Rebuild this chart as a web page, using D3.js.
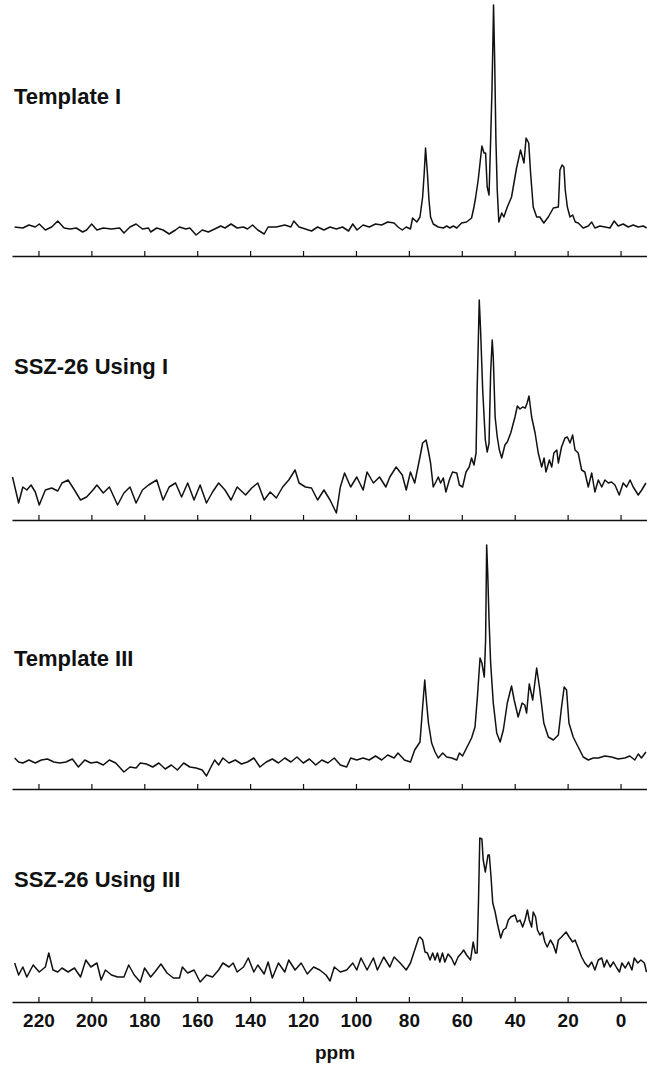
<!DOCTYPE html>
<html lang="en">
<head>
    <meta charset="UTF-8">
    <title>13C NMR spectra - templates and SSZ-26</title>
    <style>
        body {
            margin: 0;
            padding: 0;
            background: #fff;
        }

        .spectrum {
            fill: none;
            stroke: #111;
            stroke-width: 1.5px;
            stroke-linejoin: round;
        }

        .axis .domain {
            stroke: #111;
            stroke-width: 1.7px;
        }

        .axis line {
            stroke: #111;
            stroke-width: 1.2px;
        }

        .axis text {
            font-family: "Liberation Sans", Arial, sans-serif;
            font-size: 19px;
            font-weight: bold;
            fill: #111;
        }

        .panel-label {
            font-family: "Liberation Sans", Arial, sans-serif;
            font-size: 22px;
            font-weight: bold;
            fill: #111;
        }
    </style>
</head>
<body>
    <script src="https://d3js.org/d3.v7.min.js"></script>
    <script>
        // tick values of the ppm axis
        const ppmTicks = [220, 200, 180, 160, 140, 120, 100, 80, 60, 40, 20, 0];

        // panel titles, top to bottom
        const labels = ["Template I", "SSZ-26 Using I", "Template III", "SSZ-26 Using III"];

        // spectra: [ppm, intensity]
        const templateI = [
            [229,29],[225.9,28],[223.6,31],[221.2,29],[219.7,32],[217.4,26],[215,29],[212.7,35],[210.3,28],[208,27],
            [205.7,28],[203.3,24],[201.8,26],[199.9,32],[197.9,26],[195.5,28],[192.4,27],[189.3,28],[187.7,23],[185.4,29],
            [183.1,32],[180.7,27],[178.4,28],[177.6,24],[175.3,28],[172.9,26],[170.6,22],[168.2,26],[166.7,29],[164.3,27],
            [162.8,28],[160.4,21],[158.1,26],[155.8,24],[153.4,27],[151.1,30],[149.5,28],[147.2,32],[144.9,28],[142.5,29],
            [141,27],[139.1,31],[137.1,26],[134.7,22],[133.2,29],[130.1,29],[126.9,31],[124.6,29],[123.5,35],[121.5,29],
            [119.1,27],[116.8,25],[114.5,29],[112.1,26],[109.8,29],[107.4,27],[105.1,29],[102.8,25],[101.2,32],[99.6,26],
            [97.3,31],[95,29],[92.6,32],[90.3,31],[88,34],[85.6,33],[84.1,29],[82.5,26],[81,29],[79.4,27],
            [78.6,38],[77,34],[75.8,39],[74.8,59],[74.2,83],[73.7,108],[73,83],[72.4,56],[71.8,39],[70.8,32],
            [68.9,29],[67,28],[65.7,30],[64.5,28],[63.2,30],[61.9,28],[60.1,33],[58.2,34],[56.3,38],[55.4,49],
            [54.8,58],[53.8,76],[53.1,93],[52.4,110],[51.6,103],[51,103],[50.4,69],[49.7,61],[49.1,116],[48.6,165],
            [48.2,220],[48,251],[47.6,200],[47.1,116],[46.6,66],[46,34],[44.9,43],[44.1,39],[42.8,49],[41.2,59],
            [39.3,88],[37.8,106],[37.1,99],[36.5,93],[35.7,118],[34.7,113],[34,83],[33,49],[31.7,39],[30.5,39],
            [29,33],[27.3,39],[25.4,48],[23.5,49],[22.9,86],[22.1,91],[21.4,89],[20.9,66],[20.1,49],[19.1,39],
            [18.1,41],[17.1,34],[16,33],[14.1,28],[12.2,30],[10.9,34],[9.7,28],[7.8,30],[5.9,29],[4,28],
            [2.4,35],[0.9,30],[-1,32],[-2.9,29],[-4.8,31],[-6.7,29],[-8.6,30],[-9.9,28]
        ];

        const ssz26UsingI = [
            [229.8,43],[227.5,17],[225.9,33],[224.4,30],[222.8,35],[221.2,28],[219.7,15],[217.4,30],[215,32],[212.7,29],
            [211.1,37],[208.8,40],[206.4,30],[204.1,20],[201.8,23],[199.4,30],[197.9,35],[195.5,27],[193.2,33],[190.1,15],
            [187.7,27],[185.4,33],[183.1,17],[180.7,30],[178.4,35],[175.3,40],[172.9,20],[170.6,33],[168.2,37],[165.9,23],
            [163.6,37],[161.2,20],[158.9,35],[156.5,17],[154.2,28],[151.9,37],[149.5,30],[147.2,20],[144.9,33],[141.7,25],
            [139.4,32],[137.1,37],[134.7,20],[132.4,28],[130.1,22],[127.7,33],[125.4,40],[123,50],[121.5,37],[119.1,33],
            [116.8,32],[114.5,20],[112.1,30],[109.8,20],[107.4,7],[105.9,33],[104.3,47],[102,33],[99.7,43],[97.3,30],
            [95.8,48],[93.4,37],[91.1,43],[88.7,33],[87.2,43],[84.8,53],[82.5,45],[81,30],[79.4,48],[77.8,37],
            [75.8,63],[74.8,77],[73.5,80],[72.7,70],[71.8,57],[70.8,33],[69.8,38],[68.9,43],[68,37],[67,42],
            [66,28],[64.7,40],[63.5,48],[61.9,47],[60.9,35],[59.7,33],[58.4,48],[57.2,53],[56.3,62],[55.4,55],
            [54.6,67],[54.2,130],[53.6,197],[53.4,220],[52.9,190],[52.1,130],[51.1,80],[50.4,68],[49.7,77],[49.1,147],
            [48.5,180],[48.1,163],[47.4,103],[46.6,83],[45.8,70],[44.9,62],[43.7,75],[42.8,78],[41.5,87],[39.9,103],
            [39,114],[38,111],[37,113],[36,112],[35.3,117],[34.6,124],[33.6,103],[32.3,87],[31.1,67],[29.8,53],
            [28.9,62],[28.2,48],[26.9,60],[26,53],[25.2,67],[24.1,70],[23.5,57],[22.3,73],[21,82],[20.1,83],
            [19.1,77],[18.1,85],[17.2,70],[16,67],[14.7,50],[13.5,48],[12.2,33],[10.9,47],[9.7,28],[8.4,40],
            [7.1,33],[5.9,40],[4.6,37],[3.4,38],[2.1,35],[0.5,25],[-1,37],[-2.3,33],[-3.6,40],[-4.8,33],
            [-6.7,25],[-8,30],[-9.6,37]
        ];

        const templateIII = [
            [229,31],[227.5,27],[225.9,26],[223.6,29],[221.2,26],[218.9,29],[216.6,30],[214.2,27],[211.9,26],[209.6,27],
            [207.2,30],[204.9,22],[202.5,29],[200.2,26],[197.9,27],[195.5,24],[193.2,29],[190.8,26],[187.7,17],[185.4,22],
            [183.1,21],[181.5,26],[179.2,25],[176.8,22],[174.5,26],[172.1,20],[169.8,24],[167.5,19],[165.1,26],[162.8,22],
            [160.4,21],[158.1,19],[156.5,13],[155,21],[153.4,29],[151.9,24],[150.3,31],[148,26],[145.6,29],[143.3,25],
            [141,27],[138.6,31],[136.3,22],[133.9,27],[131.6,30],[129.3,26],[126.9,31],[124.6,27],[122.3,32],[119.9,26],
            [117.6,30],[115.2,24],[112.9,29],[110.6,26],[108.2,31],[105.9,24],[103.5,22],[102,31],[99.7,29],[97.3,31],
            [95,29],[92.6,33],[90.3,29],[88,34],[85.6,31],[84.1,36],[81.7,29],[79.4,27],[77.8,39],[75.8,47],
            [74.8,82],[74,109],[73.3,86],[72.6,66],[71.4,46],[70.1,37],[68.9,31],[67.2,36],[65.7,32],[63.8,31],
            [61.9,29],[60.9,36],[59.7,33],[58.2,41],[56.3,51],[55,62],[54.1,92],[53.1,131],[52.4,126],[51.5,112],
            [51,149],[50.6,244],[50.2,216],[49.7,169],[49.1,126],[48.1,86],[46.8,56],[45.5,47],[44.3,59],[42.8,86],
            [41.2,103],[40.2,89],[38.7,72],[37.2,86],[36.2,84],[35.5,76],[34.5,105],[33.2,89],[31.7,121],[30.5,99],
            [29,66],[27.3,52],[25.4,49],[23.5,54],[22.3,82],[21.3,102],[20.4,99],[19.5,66],[17.9,52],[16,42],
            [14.1,32],[12.2,29],[10.3,31],[8.4,31],[5.9,33],[3.4,32],[0.9,30],[-1.6,31],[-3.5,33],[-5.4,29],
            [-6.7,35],[-7.9,31],[-9.6,37]
        ];

        const ssz26UsingIII = [
            [229,39],[227.5,27],[225.9,35],[224.4,25],[222,37],[219.7,30],[217.4,35],[216.1,49],[214.5,32],[212.7,30],
            [211.1,34],[208.8,30],[206.4,34],[204.1,25],[202.1,42],[200.2,35],[197.9,39],[196.3,22],[194.7,32],[192.4,27],
            [190.1,25],[187.7,25],[185.9,37],[183.8,27],[181.5,20],[179.9,34],[177.6,25],[176,30],[173.7,38],[171.4,29],
            [169,24],[166.7,24],[165.6,35],[163.6,29],[161.2,32],[158.9,20],[156.5,27],[154.2,25],[151.9,32],[150.3,39],
            [148,35],[146.4,39],[144.9,30],[142.5,35],[140.7,44],[138.6,30],[137.1,37],[134.7,28],[133.2,40],[131.6,24],
            [129.3,39],[126.9,30],[125.4,42],[123,32],[120.7,39],[118.4,28],[116,35],[113.7,32],[111.3,27],[109.8,21],
            [108.2,35],[105.9,30],[103.5,32],[101.2,39],[99.7,32],[98.1,44],[95.8,32],[93.4,44],[91.9,32],[89.5,45],
            [87.2,35],[85.6,45],[83.3,39],[81,32],[79.4,39],[77.8,52],[76.3,64],[75.8,65],[74.8,62],[73.9,50],
            [73,49],[72,42],[71,49],[70.1,42],[69.2,49],[68.3,40],[67.3,49],[66.4,40],[65.2,48],[63.9,44],
            [62.7,37],[61.4,45],[60.1,49],[59.3,52],[58.2,47],[56.7,42],[55.7,60],[54.9,49],[54.2,49],[53.7,99],
            [53.2,164],[52.4,163],[51.9,142],[51.1,130],[50.1,147],[49.6,147],[49,127],[48.3,99],[47.4,90],[46.6,79],
            [45.3,64],[44.3,72],[43.3,74],[42.4,82],[41.5,85],[39.9,87],[39,80],[38,82],[37,75],[36.1,82],
            [35.2,92],[34.5,82],[33.6,75],[33,90],[32.1,85],[31.4,72],[30.5,67],[29.5,70],[28.6,60],[27.7,55],
            [26.5,62],[25.4,57],[24.4,49],[23.5,62],[22.3,65],[20.6,70],[19.4,65],[18.1,60],[17.2,62],[16,54],
            [14.7,45],[13.5,39],[12.2,35],[10.9,40],[9.7,32],[8.4,42],[7.1,44],[6.2,35],[5.2,42],[3.9,35],
            [2.7,40],[1.4,34],[0.4,30],[-0.5,39],[-1.8,34],[-3,40],[-4.3,32],[-5.2,44],[-6.5,39],[-7.7,42],
            [-9,39],[-9.8,30]
        ];

        const spectra = [templateI, ssz26UsingI, templateIII, ssz26UsingIII];

        const width = 647;
        const height = 1066;

        // baseline (axis) of each panel and where its title sits
        const axisY = [256, 520, 789, 1002];
        const labelY = [104, 374, 666, 887];

        const svg = d3.select("body").append("svg")
            .attr("width", width)
            .attr("height", height);

        // ppm runs right to left
        const x = d3.scaleLinear()
            .domain([230, -10])
            .range([12, 647]);

        spectra.forEach((data, i) => {
            const y = d3.scaleLinear()
                .domain([0, 250])
                .range([axisY[i], axisY[i] - 250]);

            const line = d3.line()
                .x(d => x(d[0]))
                .y(d => y(d[1]));

            svg.append("path")
                .datum(data)
                .attr("class", "spectrum")
                .attr("d", line);

            // axis with small ticks pointing up, labels only on the last one
            const isLast = i === spectra.length - 1;
            const axis = d3.axisBottom(x)
                .tickValues(ppmTicks)
                .tickSizeInner(-5)
                .tickSizeOuter(0)
                .tickPadding(12);
            if (!isLast) axis.tickFormat("");

            svg.append("g")
                .attr("class", "axis")
                .attr("transform", "translate(0," + axisY[i] + ")")
                .call(axis);

            svg.append("text")
                .attr("class", "panel-label")
                .attr("x", 14)
                .attr("y", labelY[i])
                .text(labels[i]);
        });

        // x axis title
        svg.append("text")
            .attr("x", 335)
            .attr("y", 1059)
            .attr("text-anchor", "middle")
            .style("font-family", "'Liberation Sans', Arial, sans-serif")
            .style("font-size", "19px")
            .style("font-weight", "bold")
            .style("fill", "#111")
            .text("ppm");
    </script>
</body>
</html>
